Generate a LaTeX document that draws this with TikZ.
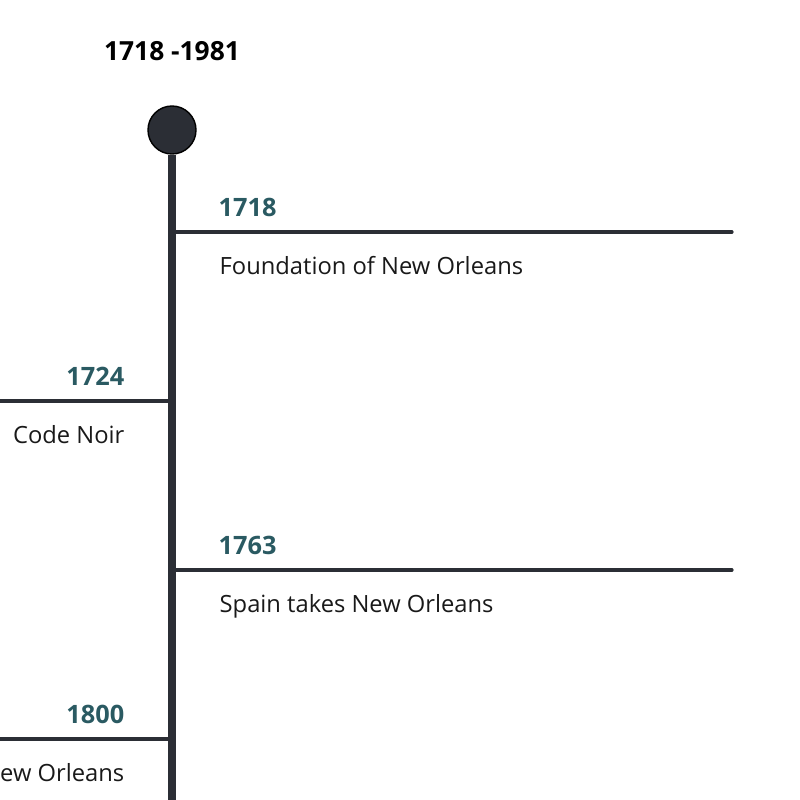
\documentclass[tikz,border=0pt]{standalone}
\usepackage{fontspec}
\setmainfont{Open Sans}
\usepackage{tikz}

\definecolor{inkdark}{HTML}{2B2E35}
\definecolor{yearteal}{HTML}{2A5A62}

\tikzset{
	dot/.style={circle, fill=inkdark, draw=black, line width=0.4pt, minimum size=0.48cm, inner sep=0pt},
	spine/.style={draw=inkdark, line width=2.3pt},
	branch/.style={draw=inkdark, line width=0.9pt, line cap=round},
	year/.style={text=yearteal, font=\fontsize{7.2}{8}\selectfont\bfseries, inner sep=0pt},
	event/.style={text=black!90, font=\fontsize{6.75}{8}\selectfont, inner sep=0pt}
}

\begin{document}
\begin{tikzpicture}[
			x=0.01cm, y=-0.01cm,
			line join=round
			]
			% Frame
			\useasboundingbox (0,0) rectangle (800,800);
			\clip (0,0) rectangle (800,800);
			
			% Title and head of the line
			\node[font=\fontsize{7.5}{8}\selectfont\bfseries, anchor=base, inner sep=0pt] (title) at (172,60) {1718 -1981};
			\node[dot] (top) at (172,130) {};
			\coordinate (bottom) at (172,810);
			\draw[spine] (top.south) -- (bottom);
			
			% 1718, right side
			\coordinate (b1) at (172,232);
			\coordinate (e1) at (732,232);
			\draw[branch] (b1) -- (e1);
			\node[year, anchor=base west] (y1) at (218,216) {1718};
			\node[event, anchor=base west] (t1) at (219,274) {Foundation of New Orleans};
			
			% 1724, left side
			\coordinate (b2) at (172,401);
			\coordinate (e2) at (-10,401);
			\draw[branch] (b2) -- (e2);
			\node[year, anchor=base east] (y2) at (125,385) {1724};
			\node[event, anchor=base east] (t2) at (125,443) {Code Noir};
			
			% 1763, right side
			\coordinate (b3) at (172,570);
			\coordinate (e3) at (732,570);
			\draw[branch] (b3) -- (e3);
			\node[year, anchor=base west] (y3) at (218,554) {1763};
			\node[event, anchor=base west] (t3) at (219,612) {Spain takes New Orleans};
			
			% 1800, left side
			\coordinate (b4) at (172,739);
			\coordinate (e4) at (-10,739);
			\draw[branch] (b4) -- (e4);
			\node[year, anchor=base east] (y4) at (125,723) {1800};
			\node[event, anchor=base east] (t4) at (125,781) {New Orleans};
		\end{tikzpicture}
\end{document}
